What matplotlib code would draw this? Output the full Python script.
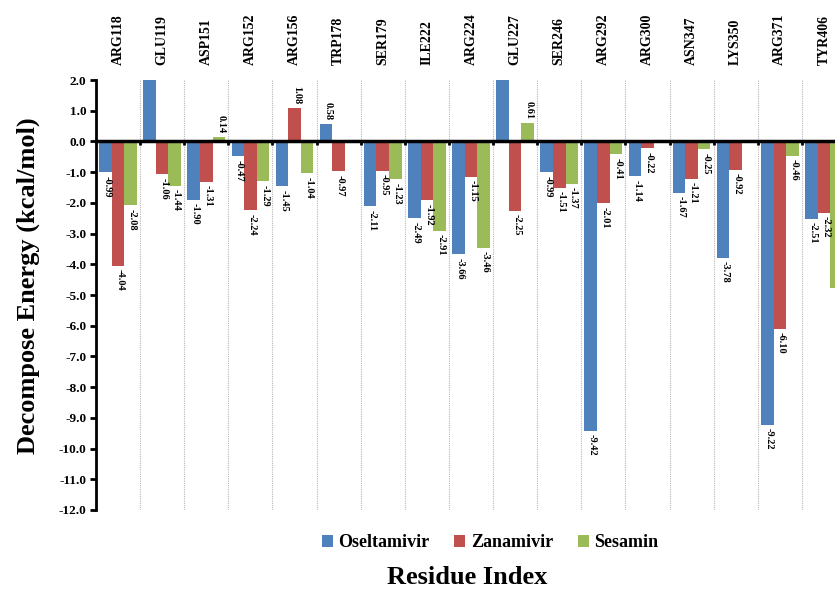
import numpy as np
import matplotlib
matplotlib.use("Agg")
import matplotlib.pyplot as plt
from matplotlib.patches import Patch

residues = ["ARG118", "GLU119", "ASP151", "ARG152", "ARG156", "TRP178", "SER179",
            "ILE222", "ARG224", "GLU227", "SER246", "ARG292", "ARG300", "ASN347",
            "LYS350", "ARG371", "TYR406"]
oseltamivir = [-0.99, 2.60, -1.90, -0.47, -1.45, 0.58, -2.11, -2.49, -3.66, 2.60,
               -0.99, -9.42, -1.14, -1.67, -3.78, -9.22, -2.51]
zanamivir = [-4.04, -1.06, -1.31, -2.24, 1.08, -0.97, -0.95, -1.92, -1.15, -2.25,
             -1.51, -2.01, -0.22, -1.21, -0.92, -6.10, -2.32]
sesamin = [-2.08, -1.44, 0.14, -1.29, -1.04, np.nan, -1.23, -2.91, -3.46, 0.61,
           -1.37, -0.41, np.nan, -0.25, np.nan, -0.46, -4.77]
series_names = ["Oseltamivir", "Zanamivir", "Sesamin"]
colors = ["#4F81BD", "#C0504D", "#9BBB59"]

serif = ["Liberation Serif", "DejaVu Serif"]
plt.rcParams["font.family"] = serif
plt.rcParams["font.weight"] = "bold"

fig = plt.figure(figsize=(8.35, 5.9), dpi=100)
ax = fig.add_axes([96 / 835, 80 / 590, 750 / 835, 430 / 590])

n = len(residues)
x = np.arange(n)
bw = 0.285
ymin, ymax = -12.0, 2.0
for i, (vals, c) in enumerate(zip([oseltamivir, zanamivir, sesamin], colors)):
    pos = x + (i - 1) * bw
    v = np.array(vals, dtype=float)
    ok = ~np.isnan(v)
    ax.bar(pos[ok], v[ok], width=bw, color=c, zorder=2)
    for xp, val in zip(pos[ok], v[ok]):
        if val > ymax:
            continue
        if val < 0:
            ax.text(xp + 0.04, val - 0.12, f"{val:.2f}", rotation=-90, ha="center", va="top",
                    fontsize=7.5, fontweight="bold", zorder=3)
        else:
            ax.text(xp + 0.04, val + 0.12, f"{val:.2f}", rotation=-90, ha="center", va="bottom",
                    fontsize=7.5, fontweight="bold", zorder=3)

ax.set_xlim(-0.5, n - 0.5)
ax.set_ylim(ymin, ymax)
ax.set_yticks(np.arange(-12, 3, 1))
ax.set_yticklabels([f"{t:.1f}" for t in np.arange(-12, 3, 1)], fontsize=9.5, fontweight="bold")

ax.set_xticks(x)
ax.set_xticklabels(residues, fontsize=10, fontweight="bold")
ax.set_xticks(np.arange(0.5, n - 0.5, 1), minor=True)
ax.tick_params(axis="x", which="major", bottom=False, top=False, labelbottom=False,
               labeltop=True, length=0, pad=11, labelrotation=90)
ax.tick_params(axis="x", which="minor", bottom=True, top=False, direction="out",
               length=3, width=2)
ax.tick_params(axis="y", which="major", direction="out", length=4, width=2, pad=3)
ax.grid(which="minor", axis="x", linestyle=(0, (1, 1)), color="#b8b8b8", linewidth=0.8, zorder=0)

ax.spines["top"].set_visible(False)
ax.spines["right"].set_visible(False)
ax.spines["bottom"].set_position(("data", 0))
ax.spines["bottom"].set_linewidth(2.5)
ax.spines["bottom"].set_zorder(4)
ax.spines["left"].set_linewidth(2)

handles = [Patch(facecolor=c, edgecolor="none") for c in colors]
fig.legend(handles, series_names, loc="center", bbox_to_anchor=(0.587, 0.08), ncol=3,
           frameon=False, handlelength=0.6, handleheight=0.6, handletextpad=0.3,
           columnspacing=1.4, prop={"family": serif, "weight": "bold", "size": 13})

fig.text(0.56, 0.022, "Residue Index", ha="center", va="center", fontsize=19, fontweight="bold")
fig.text(0.034, 0.515, "Decompose Energy (kcal/mol)", ha="center", va="center", rotation=90,
         fontsize=19, fontweight="bold")

fig.savefig("out.png", dpi=100)
